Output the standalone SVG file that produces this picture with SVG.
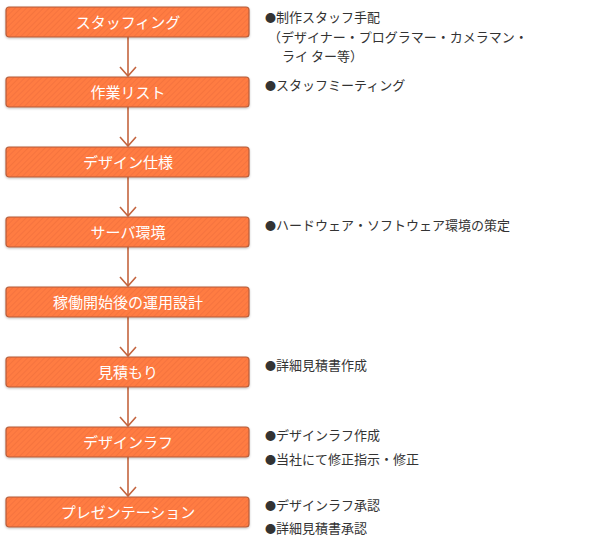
<svg xmlns="http://www.w3.org/2000/svg" width="590" height="550" viewBox="0 0 590 550">
<style>
.box{fill:url(#stripe);stroke:#b65d3a;stroke-width:1.2}
.bl{font-family:"Noto Sans CJK JP","Noto Sans",sans-serif;font-size:15px;fill:#ffffff;text-anchor:middle}
.nt{font-family:"Noto Sans CJK JP","Noto Sans",sans-serif;font-size:13px;fill:#333333}
.bu{font-size:11px}
.cn{stroke:#c4643e;stroke-width:1.6;fill:none}
</style>
<defs>
<pattern id="stripe" width="4" height="4" patternUnits="userSpaceOnUse" patternTransform="rotate(45)">
<rect width="4" height="4" fill="#ff7b43"/>
<rect width="1" height="4" fill="#f5743e"/>
</pattern>
<marker id="ah" viewBox="0 0 20 20" refX="18" refY="10" markerWidth="20" markerHeight="20" markerUnits="userSpaceOnUse" orient="auto">
<path d="M9,2 L18,10 L9,18" fill="none" stroke="#c4643e" stroke-width="1.6"/>
</marker>
<filter id="sh" x="-5%" y="-20%" width="110%" height="150%">
<feDropShadow dx="0" dy="1" stdDeviation="1" flood-color="#000" flood-opacity="0.25"/>
</filter>
</defs>
<g id="connectors">
<line class="cn" x1="128" y1="37" x2="128" y2="76" marker-end="url(#ah)"/>
<line class="cn" x1="128" y1="107" x2="128" y2="146" marker-end="url(#ah)"/>
<line class="cn" x1="128" y1="177" x2="128" y2="216" marker-end="url(#ah)"/>
<line class="cn" x1="128" y1="247" x2="128" y2="286" marker-end="url(#ah)"/>
<line class="cn" x1="128" y1="317" x2="128" y2="356" marker-end="url(#ah)"/>
<line class="cn" x1="128" y1="387" x2="128" y2="426" marker-end="url(#ah)"/>
<line class="cn" x1="128" y1="457" x2="128" y2="496" marker-end="url(#ah)"/>
</g>
<g id="n1"><rect class="box" filter="url(#sh)" x="6" y="7" width="243" height="30" rx="3"/><text class="bl" x="128" y="27.5">スタッフィング</text></g>
<g id="n2"><rect class="box" filter="url(#sh)" x="6" y="77" width="243" height="30" rx="3"/><text class="bl" x="128" y="97.5">作業リスト</text></g>
<g id="n3"><rect class="box" filter="url(#sh)" x="6" y="147" width="243" height="30" rx="3"/><text class="bl" x="128" y="167.5">デザイン仕様</text></g>
<g id="n4"><rect class="box" filter="url(#sh)" x="6" y="217" width="243" height="30" rx="3"/><text class="bl" x="128" y="237.5">サーバ環境</text></g>
<g id="n5"><rect class="box" filter="url(#sh)" x="6" y="287" width="243" height="30" rx="3"/><text class="bl" x="128" y="307.5">稼働開始後の運用設計</text></g>
<g id="n6"><rect class="box" filter="url(#sh)" x="6" y="357" width="243" height="30" rx="3"/><text class="bl" x="128" y="377.5">見積もり</text></g>
<g id="n7"><rect class="box" filter="url(#sh)" x="6" y="427" width="243" height="30" rx="3"/><text class="bl" x="128" y="447.5">デザインラフ</text></g>
<g id="n8"><rect class="box" filter="url(#sh)" x="6" y="497" width="243" height="30" rx="3"/><text class="bl" x="128" y="517.5">プレゼンテーション</text></g>
<g id="notes">
<text class="nt" x="265" y="21.5"><tspan class="bu">●</tspan>制作スタッフ手配</text>
<text class="nt" x="268" y="41.5">（デザイナー・プログラマー・カメラマン・</text>
<text class="nt" x="282" y="61">ライ ター等）</text>
<text class="nt" x="265" y="89.5"><tspan class="bu">●</tspan>スタッフミーティング</text>
<text class="nt" x="265" y="229.5"><tspan class="bu">●</tspan>ハードウェア・ソフトウェア環境の策定</text>
<text class="nt" x="265" y="369.5"><tspan class="bu">●</tspan>詳細見積書作成</text>
<text class="nt" x="265" y="439.5"><tspan class="bu">●</tspan>デザインラフ作成</text>
<text class="nt" x="265" y="463.5"><tspan class="bu">●</tspan>当社にて修正指示・修正</text>
<text class="nt" x="265" y="509.5"><tspan class="bu">●</tspan>デザインラフ承認</text>
<text class="nt" x="265" y="532.5"><tspan class="bu">●</tspan>詳細見積書承認</text>
</g>
</svg>
